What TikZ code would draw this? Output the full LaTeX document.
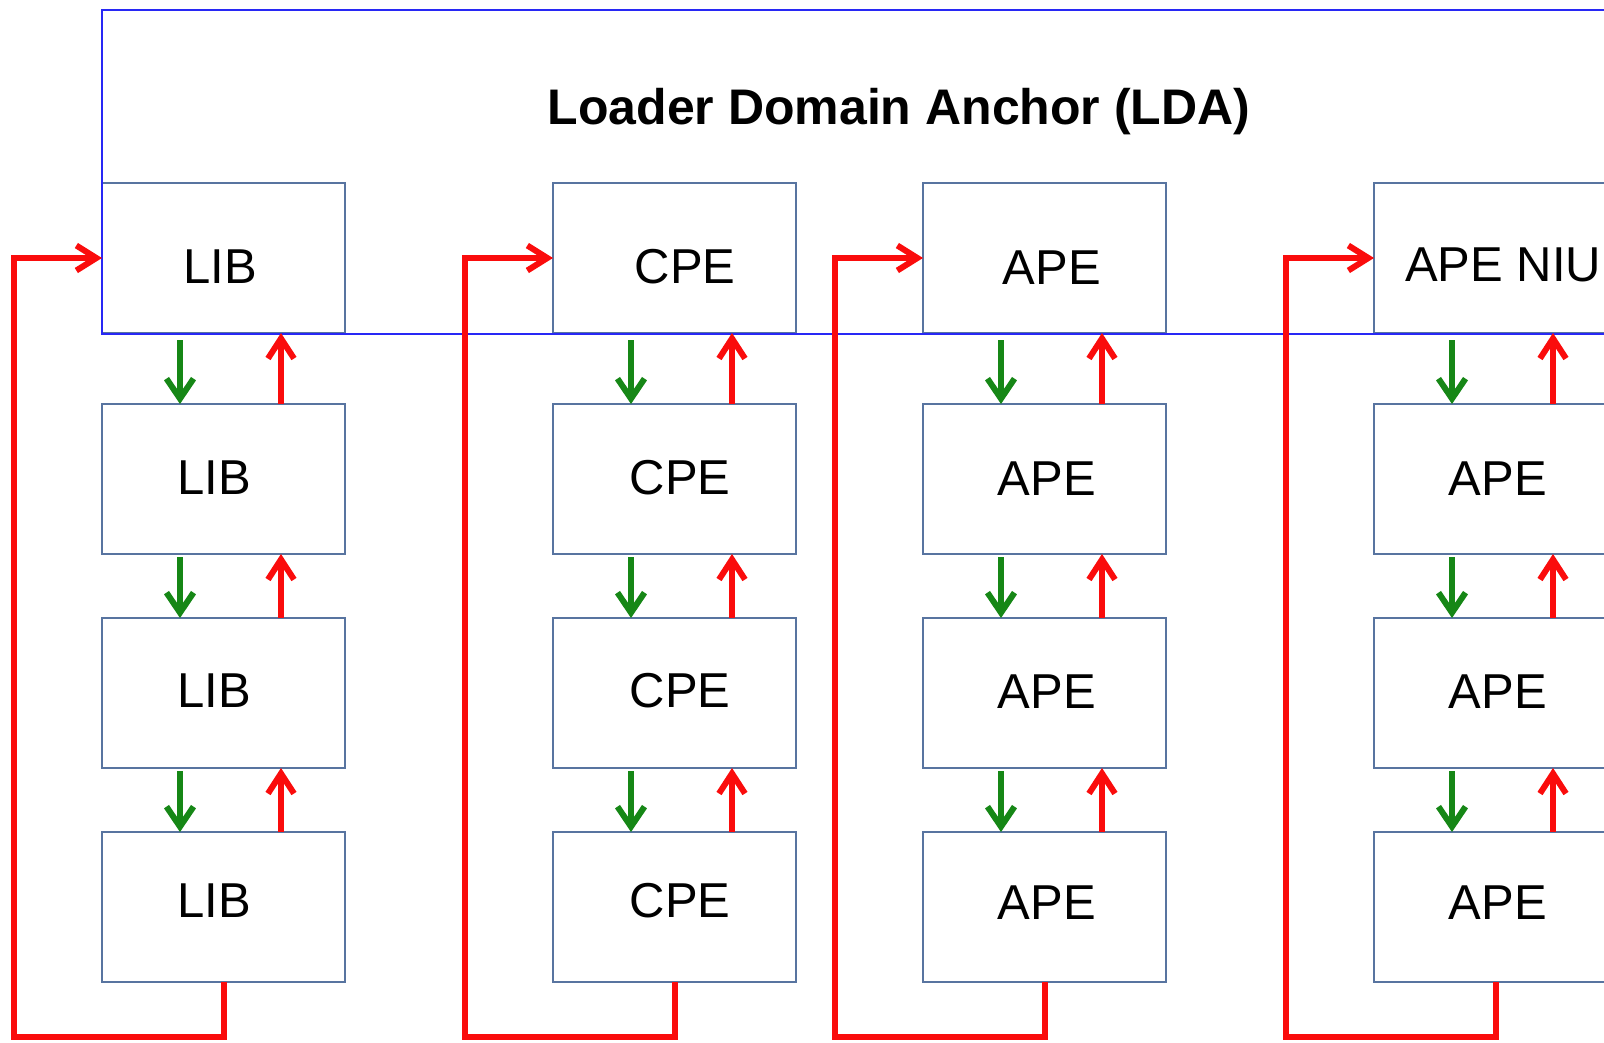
\documentclass[tikz,border=0pt]{standalone}
\usepackage{fontspec}
\setmainfont{Liberation Sans}
\usetikzlibrary{arrows.meta}
\definecolor{boxline}{RGB}{88,116,160}
\definecolor{ldablue}{RGB}{40,40,245}
\definecolor{fbred}{RGB}{250,12,12}
\definecolor{dngreen}{RGB}{22,135,22}

\begin{document}
\begin{tikzpicture}[x=1pt,y=-1pt,
  blk/.style={draw=boxline, line width=2pt, fill=white, minimum width=243pt,
    minimum height=150pt, anchor=north west, inner sep=0pt, outer sep=0pt},
  ldabox/.style={draw=ldablue, line width=2.5pt, minimum width=1520pt,
    minimum height=324pt, anchor=north west, inner sep=0pt, outer sep=0pt},
  lbl/.style={font=\fontsize{49}{58}\selectfont, inner sep=0pt, anchor=base},
  ttl/.style={font=\fontsize{50}{60}\selectfont\bfseries, inner sep=0pt, anchor=base},
  godown/.style={draw=dngreen, line width=6pt,
    -{Straight Barb[length=20pt, width=27pt]}},
  goup/.style={draw=fbred, line width=6pt,
    -{Straight Barb[length=20pt, width=26pt]}},
  fbloop/.style={draw=fbred, line width=6pt, line join=miter,
    -{Straight Barb[length=20pt, width=25pt]}}
]
\useasboundingbox (0,0) rectangle (1604,1042);
\fill[white] (0,0) rectangle (1604,1042);
\clip (0,0) rectangle (1604,1042);

% four columns of four blocks each
\foreach \c/\x in {lib/102, cpe/553, ape/923, niu/1374}
  \foreach \r/\y in {0/183, 1/404, 2/618, 3/832}
    \node[blk] (\c\r) at (\x,\y) {};

% the loader domain anchor frame, running off to the right
\node[ldabox] (lda) at (102,10) {};
\node[ttl] (title) at (899,124) {Loader Domain Anchor (LDA)};

% downward (green) and upward (red) links between neighbouring blocks
\foreach \c in {lib, cpe, ape, niu} {
  \draw[godown] ([shift={(78,7)}]\c0.south west) -- ([shift={(78,0)}]\c1.north west);
  \foreach \r/\s in {1/2, 2/3}
    \draw[godown] ([shift={(78,3)}]\c\r.south west) -- ([shift={(78,0)}]\c\s.north west);
  \foreach \r/\s in {0/1, 1/2, 2/3}
    \draw[goup] ([shift={(179,0)}]\c\s.north west) -- ([shift={(179,0)}]\c\r.south west);
}

% feedback loops from the last block back to the first
\coordinate (fb1) at (14,1037);
\coordinate (fb2) at (465,1037);
\coordinate (fb3) at (835,1037);
\coordinate (fb4) at (1286,1037);
\draw[fbloop] (lib3.south) |- (fb1) |- (lib0.west);
\draw[fbloop] (cpe3.south) |- (fb2) |- (cpe0.west);
\draw[fbloop] (ape3.south) |- (fb3) |- (ape0.west);
\draw[fbloop] (niu3.south) |- (fb4) |- (niu0.west);

% block labels
\node[lbl] (t-lib0) at (220,283.5) {LIB};
\node[lbl] (t-lib1) at (214,494.5) {LIB};
\node[lbl] (t-lib2) at (214,707.5) {LIB};
\node[lbl] (t-lib3) at (214,917.5) {LIB};
\node[lbl] (t-cpe0) at (685,283.5) {CPE};
\node[lbl] (t-cpe1) at (680,494.5) {CPE};
\node[lbl] (t-cpe2) at (680,707.5) {CPE};
\node[lbl] (t-cpe3) at (680,917.5) {CPE};
\node[lbl] (t-ape0) at (1052,284.5) {APE};
\node[lbl] (t-ape1) at (1047,495.5) {APE};
\node[lbl] (t-ape2) at (1047,708.5) {APE};
\node[lbl] (t-ape3) at (1047,919.5) {APE};
\node[lbl, anchor=base west] (t-niu0) at (1405,281.5) {APE NIU};
\node[lbl] (t-niu1) at (1498,495.5) {APE};
\node[lbl] (t-niu2) at (1498,708.5) {APE};
\node[lbl] (t-niu3) at (1498,919.5) {APE};
\end{tikzpicture}
\end{document}
